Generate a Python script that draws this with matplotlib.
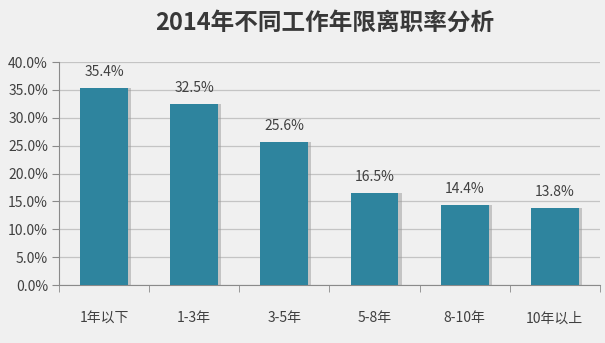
import matplotlib.pyplot as plt
import numpy as np

plt.rcParams['font.family'] = ['Noto Sans CJK SC', 'DejaVu Sans']

# data
categories = ['1年以下', '1-3年', '3-5年', '5-8年', '8-10年', '10年以上']
rates = [35.4, 32.5, 25.6, 16.5, 14.4, 13.8]

fig = plt.figure(figsize=(6.05, 3.43), dpi=100, facecolor='#f0f0f0')
ax = fig.add_axes([0.0975, 0.169, 0.894, 0.65])
ax.set_facecolor('none')

x = np.arange(len(categories))
# soft shadow to the right of each bar
ax.bar(x + 0.035, rates, width=0.53, color='#9a9a9a', alpha=0.5, zorder=2)
bars = ax.bar(x, rates, width=0.53, color='#2e849e', zorder=3)

for b, v in zip(bars, rates):
    ax.text(b.get_x() + b.get_width() / 2, v + 1.6, f'{v:.1f}%',
            ha='center', va='bottom', fontsize=10, color='#404040')

ax.set_ylim(0, 40)
ax.set_xlim(-0.5, len(categories) - 0.5)
ax.set_yticks(np.arange(0, 41, 5))
ax.set_yticklabels([f'{t:.1f}%' for t in np.arange(0, 41, 5)], fontsize=10, color='#404040')
ax.yaxis.grid(True, color='#c4c4c4', linewidth=0.9, zorder=0)
ax.set_axisbelow(True)

ax.set_xticks(x)
ax.set_xticklabels(categories, fontsize=10, color='#404040')
ax.set_xticks(np.arange(-0.5, len(categories)), minor=True)
ax.tick_params(axis='x', which='major', length=0, pad=19)
ax.tick_params(axis='x', which='minor', length=5, color='#8a8a8a')
ax.tick_params(axis='y', length=5, color='#8a8a8a', pad=3)

for s in ['top', 'right']:
    ax.spines[s].set_visible(False)
for s in ['left', 'bottom']:
    ax.spines[s].set_color('#8a8a8a')

fig.text(0.537, 0.935, '2014年不同工作年限离职率分析', ha='center', va='center',
         fontsize=17, fontweight='bold', color='#383838')

plt.savefig('out.png', dpi=100, facecolor=fig.get_facecolor())
